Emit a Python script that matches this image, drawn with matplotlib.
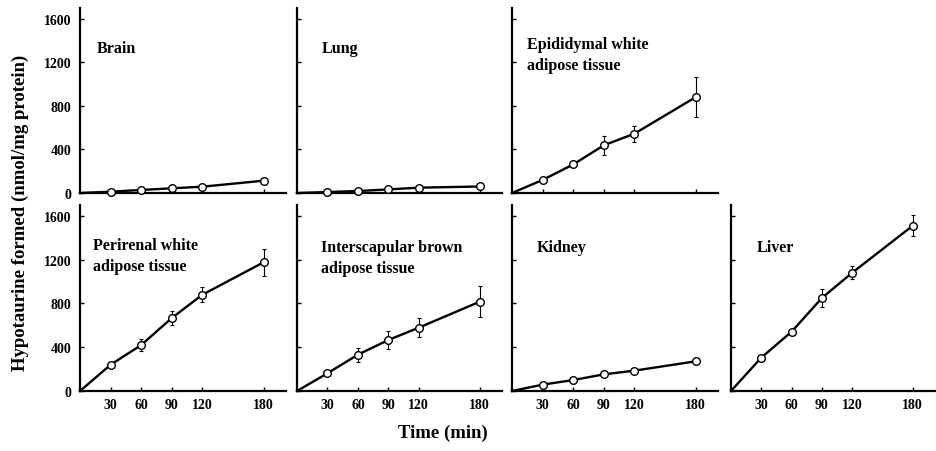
import matplotlib
matplotlib.use("Agg")
import matplotlib.pyplot as plt

plt.rcParams['font.family'] = ['Liberation Serif', 'DejaVu Serif']
plt.rcParams['font.weight'] = 'bold'

times = [0, 30, 60, 90, 120, 180]

brain = [0, 12, 28, 43, 58, 113]
brain_err = [0, 5, 5, 6, 8, 12]
lung = [0, 9, 18, 33, 49, 60]
lung_err = [0, 4, 4, 5, 6, 10]
epididymal = [0, 120, 262, 438, 545, 880]
epididymal_err = [0, 15, 25, 90, 75, 185]
perirenal = [0, 240, 420, 667, 880, 1176]
perirenal_err = [0, 15, 53, 60, 71, 125]
interscapular = [0, 162, 332, 466, 579, 816]
interscapular_err = [0, 15, 65, 78, 84, 142]
kidney = [0, 58, 100, 152, 186, 271]
kidney_err = [0, 8, 10, 10, 10, 15]
liver = [0, 305, 542, 850, 1081, 1511]
liver_err = [0, 15, 18, 81, 61, 94]

titles = ["Brain", "Lung", "Epididymal white\nadipose tissue",
          "Perirenal white\nadipose tissue", "Interscapular brown\nadipose tissue",
          "Kidney", "Liver"]
series = [brain, lung, epididymal, perirenal, interscapular, kidney, liver]
errors = [brain_err, lung_err, epididymal_err, perirenal_err, interscapular_err, kidney_err, liver_err]

yticks = [0, 400, 800, 1200, 1600]
xticks = [30, 60, 90, 120, 180]

W, H = 937, 452
fig = plt.figure(figsize=(W / 100, H / 100), dpi=100)

# pixel boxes: (left, right, top, bottom)
cols = [(80, 286), (297, 502), (512, 718), (731, 935)]
rows = [(9, 194), (206, 392)]
layout = [(0, 0), (0, 1), (0, 2), (1, 0), (1, 1), (1, 2), (1, 3)]
title_pos = [(17, 41), (25, 41), (15, 37), (13, 238), (24, 240), (25, 240), (26, 240)]

for i, (r, c) in enumerate(layout):
    l, rr = cols[c]
    t, b = rows[r]
    ax = fig.add_axes([l / W, 1 - b / H, (rr - l) / W, (b - t) / H])
    ax.set_xlim(0, 202)
    ax.set_ylim(0, 1700)
    for s in ['top', 'right']:
        ax.spines[s].set_visible(False)
    for s in ['left', 'bottom']:
        ax.spines[s].set_linewidth(1.6)
    ax.set_xticks(xticks)
    ax.set_yticks(yticks)
    ax.tick_params(direction='in', length=3, width=1, labelsize=10)
    ax.tick_params(axis='y', pad=6)
    ax.tick_params(axis='x', pad=5)
    if c != 0:
        ax.set_yticklabels([])
    else:
        ax.set_yticklabels([str(v) for v in yticks], fontweight='bold')
    if r == 0:
        ax.set_xticklabels([])
    else:
        ax.set_xticklabels([str(v) for v in xticks], fontweight='bold')
    ax.errorbar(times[1:], series[i][1:], yerr=errors[i][1:], fmt='none',
                ecolor='black', elinewidth=0.8, capsize=1.5, capthick=0.8, zorder=2)
    ax.plot(times, series[i], color='black', lw=1.7, marker='o', markersize=5.5,
            markerfacecolor='white', markeredgecolor='black', markeredgewidth=1.0,
            markevery=[1, 2, 3, 4, 5], zorder=3, clip_on=False)
    tx, ty = title_pos[i]
    fig.text((l + tx) / W, 1 - ty / H, titles[i], fontsize=11.5, fontweight='bold',
             ha='left', va='top', linespacing=1.38)

fig.text(20 / W, 1 - 213 / H, "Hypotaurine formed (nmol/mg protein)", rotation=90,
         ha='center', va='center', fontsize=13.5, fontweight='bold')
fig.text(443 / W, 1 - 433 / H, "Time (min)", ha='center', va='center',
         fontsize=13.5, fontweight='bold')

fig.savefig("out.png", dpi=100)
